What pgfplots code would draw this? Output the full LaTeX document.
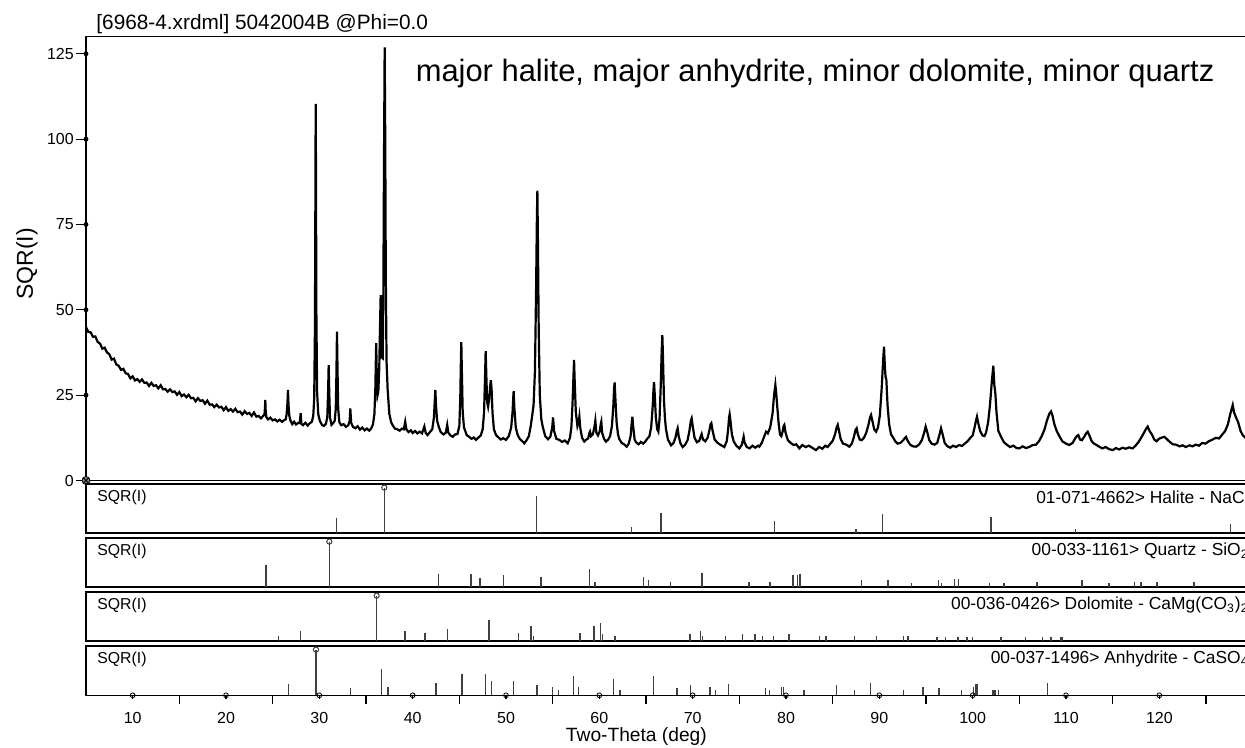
\documentclass[border=0pt]{standalone}
\usepackage{fontspec}
\setmainfont{Liberation Sans}
\usepackage{pgfplots}
\pgfplotsset{compat=1.18}

\newcommand{\smallfont}{\fontsize{8}{9.6}\selectfont}
\newcommand{\reffont}{\fontsize{8.7}{10}\selectfont}

\pgfplotsset{
  xrdbase/.style={
    anchor=south west, scale only axis, width=585.67pt,
    xmin=5, xmax=130.5, clip=false,
    axis line style={line width=0.8pt},
    /pgf/number format/assume math mode=true,
    tick label style={font=\smallfont},
    tick style={black, line width=0.6pt},
  },
  panel/.style={
    xrdbase, height=24.5pt, ymin=0, ymax=1.073,
    xtick=\empty, ytick=\empty,
  },
  sticks/.style={ycomb, black!75, line width=0.75pt},
  topmark/.style={only marks, mark=o, mark size=1.3pt, black!75, mark options={fill=white, line width=0.5pt}},
}
\tikzset{
  lefttag/.style={anchor=west, inner sep=0pt, font=\fontsize{7.9}{9.5}\selectfont, xshift=5.5pt},
  righttag/.style={anchor=east, inner sep=0pt, font=\reffont, xshift=-4.2pt},
}

\begin{document}
\begin{tikzpicture}[x=1pt,y=1pt]
\useasboundingbox (0,0) rectangle (622.5,374);

\node[anchor=west, inner sep=0pt, font=\fontsize{10.4}{12}\selectfont] at (48,362) {[6968-4.xrdml] 5042004B @Phi=0.0};
\node[rotate=90, inner sep=0pt, font=\fontsize{11.5}{13}\selectfont] at (13.5,242) {SQR(I)};

% main pattern
\begin{axis}[xrdbase, at={(43pt,133.75pt)}, height=221.9pt,
  ymin=0, ymax=130, xtick=\empty, ytick={0,25,50,75,100,125},
  ytick pos=left, tick align=outside, major tick length=5pt,
  yticklabel style={anchor=east, xshift=2.4pt},
]
\addplot[black, line width=1.1pt] coordinates {
(5.00,45.0)(5.25,43.5)(5.50,43.4)(5.75,42.1)(6.00,42.2)(6.25,40.6)(6.50,40.1)(6.75,38.6)
(7.00,38.9)(7.25,37.5)(7.50,37.0)(7.75,35.4)(8.00,35.7)(8.25,34.0)(8.50,33.6)(8.75,32.4)
(9.00,32.7)(9.25,31.4)(9.50,31.2)(9.75,29.9)(10.00,30.5)(10.25,29.3)(10.50,29.7)(10.75,28.9)
(11.00,29.6)(11.25,28.6)(11.50,28.7)(11.75,27.7)(12.00,28.6)(12.25,27.7)(12.50,27.9)(12.75,27.0)
(13.00,27.9)(13.25,26.7)(13.50,26.8)(13.75,26.0)(14.00,26.7)(14.25,25.9)(14.50,26.1)(14.75,25.1)
(15.00,25.9)(15.25,24.7)(15.50,25.2)(15.75,24.4)(16.00,25.1)(16.25,24.1)(16.50,24.2)(16.75,23.2)
(17.00,24.1)(17.25,23.3)(17.50,23.5)(17.75,22.5)(18.00,23.4)(18.25,22.2)(18.50,22.3)(18.75,21.5)
(19.00,22.2)(19.25,21.4)(19.50,21.6)(19.75,20.6)(20.00,21.5)(20.25,20.4)(20.50,20.9)(20.75,20.2)
(21.00,21.0)(21.25,20.0)(21.50,20.2)(21.75,19.3)(22.00,20.3)(22.25,19.5)(22.50,19.8)(22.75,18.9)
(23.00,19.9)(23.25,18.7)(23.50,18.9)(23.75,18.2)(24.00,19.0)(24.12,19.2)(24.18,21.5)(24.21,23.6)
(24.25,20.5)(24.32,18.6)(24.50,17.9)(24.75,18.4)(25.00,17.6)(25.25,17.9)(25.50,17.3)(25.75,17.8)
(26.00,17.2)(26.25,17.7)(26.40,17.9)(26.50,19.5)(26.58,22.5)(26.64,26.5)(26.70,22.0)(26.78,19.0)
(26.90,17.6)(27.10,16.5)(27.30,17.2)(27.50,16.4)(27.75,16.9)(27.90,16.8)(28.00,19.7)(28.08,16.6)
(28.25,16.2)(28.50,16.9)(28.75,16.1)(29.00,16.8)(29.20,17.2)(29.35,19.0)(29.45,24.0)(29.53,45.0)
(29.58,85.0)(29.61,110.3)(29.64,90.0)(29.68,50.0)(29.76,26.0)(29.88,19.5)(30.05,17.5)(30.30,16.2)
(30.50,16.0)(30.70,16.6)(30.85,18.5)(30.93,25.0)(31.00,33.8)(31.06,26.0)(31.14,18.5)(31.30,16.3)
(31.50,16.9)(31.65,17.5)(31.76,21.0)(31.83,31.0)(31.89,43.6)(31.95,32.0)(32.02,21.0)(32.15,17.0)
(32.35,16.2)(32.60,16.5)(32.85,15.7)(33.10,16.2)(33.25,17.5)(33.32,21.1)(33.40,17.0)(33.60,15.7)
(33.85,15.3)(34.10,15.9)(34.35,14.9)(34.60,15.5)(34.85,14.7)(35.10,15.2)(35.35,14.6)(35.55,15.2)
(35.75,16.5)(35.90,19.5)(36.00,27.0)(36.09,40.2)(36.16,30.0)(36.24,25.0)(36.32,26.0)(36.42,33.0)
(36.50,45.0)(36.57,54.3)(36.63,42.0)(36.70,36.0)(36.79,35.8)(36.86,55.0)(36.93,95.0)(37.00,126.9)
(37.06,100.0)(37.12,60.0)(37.20,35.0)(37.32,26.5)(37.50,19.5)(37.70,17.0)(37.90,16.0)(38.10,15.2)
(38.35,15.0)(38.60,14.6)(38.85,15.2)(39.05,15.0)(39.20,17.2)(39.32,15.0)(39.55,14.2)(39.80,14.7)
(40.00,13.9)(40.25,14.5)(40.50,13.8)(40.75,14.3)(41.00,13.8)(41.25,15.8)(41.40,13.9)(41.60,13.3)
(41.85,14.2)(42.10,15.0)(42.28,18.5)(42.38,24.0)(42.43,26.5)(42.50,22.0)(42.62,17.5)(42.79,15.8)
(43.00,14.2)(43.30,13.5)(43.55,14.0)(43.70,16.3)(43.82,14.0)(44.05,13.2)(44.29,12.8)(44.55,13.5)
(44.80,13.6)(45.00,16.0)(45.10,24.0)(45.16,34.0)(45.21,40.5)(45.27,32.0)(45.36,20.0)(45.50,15.5)
(45.79,13.3)(46.05,12.8)(46.30,12.2)(46.55,12.6)(46.79,11.9)(47.05,12.6)(47.30,13.2)(47.50,15.0)
(47.65,20.0)(47.75,30.0)(47.82,37.9)(47.90,30.0)(47.98,23.0)(48.08,21.6)(48.20,24.0)(48.30,27.5)
(48.37,29.4)(48.45,27.0)(48.55,20.0)(48.70,15.0)(48.93,13.3)(49.20,12.6)(49.45,12.0)(49.70,12.4)
(50.00,11.9)(50.30,13.0)(50.55,15.5)(50.70,20.0)(50.78,24.5)(50.82,26.2)(50.90,21.0)(51.05,15.5)
(51.25,13.3)(51.50,12.1)(51.75,11.5)(51.96,10.9)(52.20,11.8)(52.45,13.0)(52.65,16.0)(52.79,18.7)
(52.95,22.0)(53.10,32.0)(53.22,55.0)(53.30,75.0)(53.36,84.9)(53.42,70.0)(53.50,45.0)(53.62,25.0)
(53.78,18.0)(53.93,15.8)(54.20,13.0)(54.50,12.1)(54.75,12.8)(54.95,15.5)(55.04,18.5)(55.15,14.5)
(55.40,12.2)(55.71,11.9)(56.00,11.3)(56.30,11.7)(56.61,10.9)(56.85,12.5)(57.00,15.5)(57.12,22.0)
(57.22,30.0)(57.29,35.3)(57.36,29.0)(57.48,20.0)(57.65,16.0)(57.80,17.5)(57.86,18.7)(57.95,15.5)
(58.15,12.5)(58.39,11.4)(58.60,12.0)(58.80,12.3)(58.92,13.8)(59.00,14.3)(59.10,13.0)(59.30,13.5)
(59.48,15.8)(59.57,17.5)(59.68,14.0)(59.85,13.2)(60.05,14.5)(60.15,16.5)(60.21,17.2)(60.30,14.0)
(60.50,12.2)(60.71,11.4)(60.95,12.0)(61.15,13.0)(61.35,16.0)(61.50,22.0)(61.58,27.0)(61.64,28.7)
(61.72,24.0)(61.85,17.0)(62.00,13.5)(62.14,12.1)(62.40,11.0)(62.65,10.6)(62.93,9.9)(63.15,10.8)
(63.35,13.0)(63.47,17.0)(63.54,18.7)(63.62,16.0)(63.78,12.0)(63.93,11.2)(64.20,10.6)(64.45,11.3)
(64.70,10.8)(64.95,11.5)(65.15,12.3)(65.36,12.9)(65.55,15.5)(65.70,21.0)(65.80,26.5)(65.86,28.8)
(65.94,25.0)(66.05,18.5)(66.20,15.0)(66.32,14.3)(66.45,18.0)(66.58,28.0)(66.68,38.0)(66.75,42.6)
(66.82,36.0)(66.92,24.0)(67.02,18.5)(67.14,15.0)(67.35,12.0)(67.68,10.3)(67.95,11.0)(68.15,12.5)
(68.30,14.5)(68.39,15.3)(68.50,13.0)(68.70,10.8)(68.93,9.8)(69.20,10.5)(69.45,11.8)(69.65,14.5)
(69.80,17.5)(69.89,18.2)(70.00,16.0)(70.20,12.5)(70.45,11.2)(70.70,11.6)(70.85,12.8)(70.96,13.6)
(71.10,12.0)(71.35,11.5)(71.60,12.5)(71.80,14.8)(71.92,16.5)(72.00,16.8)(72.12,14.8)(72.35,12.0)
(72.68,11.0)(73.00,10.4)(73.39,9.8)(73.65,11.5)(73.80,15.0)(73.90,18.5)(73.96,19.4)(74.05,17.5)
(74.20,13.5)(74.40,11.4)(74.70,10.1)(75.00,9.4)(75.25,10.4)(75.38,11.8)(75.46,12.8)(75.55,11.2)
(75.80,9.8)(76.10,9.4)(76.40,10.2)(76.70,9.6)(77.00,10.2)(77.14,9.9)(77.40,11.0)(77.65,12.8)
(77.86,14.3)(78.05,13.8)(78.30,15.5)(78.55,19.5)(78.72,25.0)(78.86,28.0)(78.95,25.5)(79.05,22.0)
(79.20,17.0)(79.35,13.5)(79.50,13.0)(79.65,14.5)(79.75,16.0)(79.82,16.3)(79.95,14.0)(80.20,11.8)
(80.50,11.0)(80.80,10.4)(81.10,10.6)(81.43,9.4)(81.75,10.4)(82.10,9.8)(82.45,10.2)(82.80,9.6)
(83.21,8.9)(83.55,9.8)(83.90,9.3)(84.20,10.2)(84.46,9.8)(84.75,10.8)(85.00,11.6)(85.25,13.5)
(85.42,15.5)(85.54,16.3)(85.66,14.8)(85.85,12.2)(86.10,10.8)(86.45,10.5)(86.79,9.9)(87.05,10.8)
(87.25,12.5)(87.45,14.8)(87.57,15.3)(87.70,13.5)(87.90,12.0)(88.10,11.8)(88.35,12.5)(88.60,14.0)
(88.85,16.5)(89.00,18.5)(89.11,19.2)(89.25,17.5)(89.45,15.0)(89.65,14.3)(89.85,15.5)(90.05,19.0)
(90.25,27.0)(90.40,35.0)(90.50,39.2)(90.58,34.0)(90.66,30.5)(90.75,29.5)(90.88,22.0)(91.05,16.5)
(91.25,13.5)(91.43,12.8)(91.70,11.5)(91.95,10.8)(92.25,11.0)(92.55,11.8)(92.75,12.5)(92.86,12.8)
(93.00,11.8)(93.30,10.5)(93.60,10.0)(93.93,9.9)(94.25,10.5)(94.55,11.8)(94.80,14.0)(94.96,15.8)
(95.10,14.5)(95.35,11.8)(95.60,10.8)(95.90,10.5)(96.20,11.0)(96.45,13.5)(96.61,15.3)(96.78,13.5)
(97.00,11.0)(97.30,10.0)(97.60,9.6)(97.90,10.2)(98.21,9.8)(98.55,10.4)(98.85,10.1)(99.15,10.8)
(99.45,11.5)(99.75,12.5)(100.00,13.2)(100.20,15.5)(100.35,17.5)(100.46,18.7)(100.58,17.0)(100.80,14.5)
(101.05,13.2)(101.25,13.0)(101.43,14.0)(101.65,17.0)(101.85,22.0)(102.05,29.0)(102.21,33.6)(102.32,28.0)
(102.43,25.5)(102.55,20.0)(102.75,14.5)(103.04,12.8)(103.35,11.2)(103.70,10.4)(104.00,9.8)(104.35,10.2)
(104.70,9.5)(105.00,9.4)(105.35,10.0)(105.70,9.5)(106.05,9.8)(106.45,10.4)(106.79,10.5)(107.10,11.5)
(107.40,13.0)(107.70,15.0)(107.95,17.5)(108.20,19.5)(108.39,20.2)(108.55,19.0)(108.75,16.5)(109.00,14.5)
(109.29,13.0)(109.60,11.5)(110.00,10.8)(110.36,10.4)(110.70,11.0)(110.95,12.2)(111.15,13.0)(111.32,13.3)
(111.50,12.0)(111.70,11.8)(111.95,12.8)(112.15,13.8)(112.32,14.3)(112.50,13.2)(112.75,11.5)(113.00,10.8)
(113.21,10.5)(113.55,9.9)(113.90,9.4)(114.25,9.8)(114.60,9.2)(115.00,8.9)(115.35,9.5)(115.70,9.1)
(116.05,9.6)(116.40,9.3)(116.75,9.7)(117.14,9.4)(117.45,10.2)(117.75,11.2)(118.05,12.5)(118.35,14.0)
(118.55,15.0)(118.75,15.8)(118.95,14.5)(119.20,13.5)(119.45,12.0)(119.70,11.5)(119.95,12.2)(120.20,12.5)
(120.54,12.8)(120.85,12.0)(121.15,11.2)(121.45,10.6)(121.80,10.5)(122.15,10.0)(122.50,10.3)(122.85,9.8)
(123.21,10.3)(123.55,10.0)(123.90,10.5)(124.25,10.2)(124.60,11.0)(124.95,10.8)(125.30,11.5)(125.71,12.0)
(126.05,12.5)(126.40,12.3)(126.75,13.5)(127.05,14.5)(127.35,16.5)(127.60,19.5)(127.86,22.1)(128.00,20.0)
(128.21,18.5)(128.45,17.0)(128.70,14.5)(128.95,13.2)(129.11,12.8)(129.40,12.0)
};
\addplot[only marks, mark=*, mark size=1pt, black] coordinates {(5,25)(5,50)(5,75)(5,100)(5,125)};
\addplot[only marks, mark=otimes*, mark size=2pt, black, mark options={fill=gray}] coordinates {(5,0)};
\node[anchor=west, inner sep=0pt, font=\fontsize{15.45}{18}\selectfont] at (axis cs:40.29,119.2) {major halite, major anhydrite, minor dolomite, minor quartz};
\end{axis}

% Halite
\begin{axis}[panel, at={(43pt,107.35pt)}]
\addplot[sticks] coordinates {(31.86,0.33)(36.96,1)(53.25,0.82)(63.46,0.146)(66.61,0.44)(78.79,0.28)(87.5,0.09)(90.35,0.42)(101.96,0.35)(111.0,0.095)(127.6,0.2)};
\addplot[topmark] coordinates {(36.96,1)};
\node[lefttag] at (rel axis cs:0,0.735) {SQR(I)};
\node[righttag] at (rel axis cs:1,0.735) {01-071-4662> Halite - NaCl};
\end{axis}

% Quartz
\begin{axis}[panel, at={(43pt,80.35pt)}]
\addplot[sticks] coordinates {(24.29,0.49)(31.07,1)(42.79,0.30)(46.25,0.30)(47.2,0.21)(49.75,0.26)(53.75,0.22)(58.96,0.40)(59.54,0.11)(64.75,0.22)(65.29,0.15)(67.64,0.11)(71.0,0.32)(76.04,0.11)(78.29,0.11)(80.75,0.26)(81.25,0.28)(81.5,0.30)(88.1,0.15)(90.9,0.15)(93.46,0.10)(96.36,0.15)(96.64,0.10)(98.07,0.19)(98.5,0.19)(101.8,0.10)(103.36,0.10)(106.9,0.12)(111.7,0.15)(114.6,0.10)(117.36,0.12)(118.04,0.12)(119.75,0.12)(123.7,0.12)};
\addplot[topmark] coordinates {(31.07,1)};
\node[lefttag] at (rel axis cs:0,0.735) {SQR(I)};
\node[righttag] at (rel axis cs:1,0.735) {00-033-1161> Quartz - SiO\textsubscript{2}};
\end{axis}

% Dolomite
\begin{axis}[panel, at={(43pt,53.35pt)}]
\addplot[sticks] coordinates {(25.64,0.12)(28.0,0.22)(36.14,1)(39.18,0.22)(41.32,0.19)(43.75,0.28)(48.18,0.47)(51.32,0.19)(52.68,0.34)(52.93,0.12)(57.93,0.19)(59.43,0.34)(60.11,0.39)(60.36,0.16)(61.68,0.12)(69.71,0.16)(70.82,0.22)(71.07,0.12)(73.54,0.12)(75.32,0.16)(76.68,0.16)(77.46,0.12)(78.64,0.12)(80.32,0.16)(83.57,0.12)(84.29,0.12)(87.32,0.12)(89.68,0.12)(92.6,0.12)(93.07,0.12)(96.18,0.1)(97.07,0.1)(98.43,0.1)(99.39,0.1)(100.0,0.1)(103.04,0.1)(105.68,0.1)(107.5,0.1)(108.39,0.1)(109.43,0.1)(109.57,0.1)};
\addplot[topmark] coordinates {(36.14,1)};
\node[lefttag] at (rel axis cs:0,0.735) {SQR(I)};
\node[righttag] at (rel axis cs:1,0.735) {00-036-0426> Dolomite - CaMg(CO\textsubscript{3})\textsubscript{2}};
\end{axis}

% Anhydrite, with the shared x axis
\begin{axis}[panel, at={(43pt,26.35pt)},
  xtick={10,20,...,120}, minor xtick={15,25,...,125},
  xtick pos=bottom, tick align=outside,
  major tick length=2pt, minor tick length=4.5pt,
  xticklabel style={yshift=-3pt},
]
\addplot[sticks] coordinates {(26.68,0.25)(29.64,1)(33.36,0.15)(36.64,0.57)(37.36,0.19)(42.5,0.28)(45.29,0.47)(47.8,0.47)(48.43,0.31)(50.79,0.31)(53.32,0.22)(54.96,0.19)(55.61,0.12)(57.21,0.42)(57.75,0.19)(61.54,0.35)(62.21,0.12)(65.82,0.42)(68.32,0.15)(69.79,0.22)(71.86,0.19)(72.43,0.12)(73.82,0.25)(77.82,0.15)(78.25,0.12)(79.54,0.19)(79.75,0.19)(81.93,0.12)(85.43,0.22)(87.32,0.12)(89.04,0.26)(92.6,0.12)(94.68,0.19)(96.39,0.15)(98.79,0.12)(100.07,0.19)(100.29,0.24)(100.46,0.24)(102.18,0.12)(102.39,0.12)(102.75,0.12)(108.04,0.28)};
\addplot[topmark] coordinates {(29.64,1)};
\addplot[only marks, mark=o, mark size=1.2pt, black, mark options={fill=white, line width=0.4pt}] coordinates {(10,0)(20,0)(30,0)(40,0)(50,0)(60,0)(70,0)(80,0)(90,0)(100,0)(110,0)(120,0)};
\node[lefttag] at (rel axis cs:0,0.735) {SQR(I)};
\node[righttag] at (rel axis cs:1,0.735) {00-037-1496> Anhydrite - CaSO\textsubscript{4}};
\node[font=\fontsize{9.6}{11}\selectfont] at (axis cs:63.97,0) [yshift=-20.6pt] {Two-Theta (deg)};
\end{axis}
\end{tikzpicture}
\end{document}
